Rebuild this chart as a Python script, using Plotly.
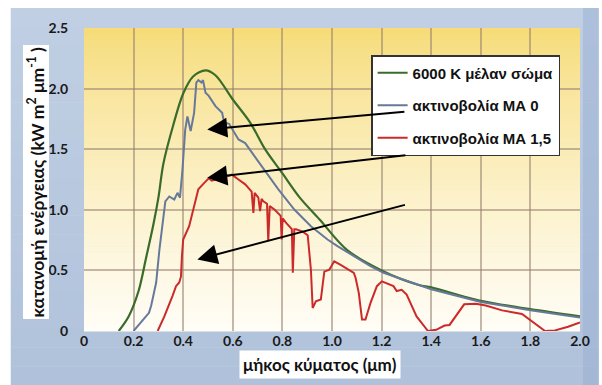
import plotly.graph_objects as go

# ---------------- data ----------------
green_name = "6000 K μέλαν σώμα"
green_x = [0.14, 0.18, 0.22, 0.25, 0.28, 0.30, 0.32, 0.36, 0.40, 0.44, 0.49, 0.53, 0.60,
           0.67, 0.73, 0.80, 0.87, 0.95, 1.06, 1.20, 1.35, 1.40, 1.60, 1.80, 2.00]
green_y = [0.00, 0.12, 0.33, 0.60, 0.88, 1.10, 1.38, 1.70, 1.96, 2.10, 2.15, 2.11, 1.91,
           1.72, 1.50, 1.30, 1.10, 0.92, 0.67, 0.50, 0.38, 0.36, 0.25, 0.18, 0.12]

blue_name = "ακτινοβολία ΜΑ 0"
blue_x = [0.20, 0.262, 0.271, 0.291, 0.304, 0.317, 0.328, 0.344, 0.364, 0.377, 0.387, 0.397,
          0.408, 0.417, 0.430, 0.444, 0.453, 0.461, 0.474, 0.480, 0.490, 0.503, 0.530, 0.557,
          0.565, 0.585, 0.603, 0.623, 0.650, 0.716, 0.783, 0.849, 0.915, 0.982, 1.022, 1.155,
          1.208, 1.40, 1.60, 1.80, 2.00]
blue_y = [0.00, 0.15, 0.21, 0.40, 0.67, 0.89, 1.07, 1.11, 1.085, 1.14, 1.10, 1.33,
          1.66, 1.77, 1.65, 1.80, 2.05, 2.07, 2.05, 2.07, 1.965, 1.94, 1.855, 1.80,
          1.72, 1.71, 1.65, 1.58, 1.55, 1.36, 1.17, 1.00, 0.865, 0.755, 0.70, 0.535,
          0.48, 0.345, 0.24, 0.172, 0.112]

red_name = "ακτινοβολία ΜΑ 1,5"
red_x = [0.297, 0.324, 0.357, 0.371, 0.384, 0.391, 0.395, 0.400, 0.424, 0.440, 0.453, 0.461,
         0.484, 0.503, 0.515, 0.530, 0.545, 0.563, 0.583, 0.596, 0.623, 0.650, 0.676, 0.683,
         0.688, 0.703, 0.710, 0.716, 0.723, 0.738, 0.743, 0.749, 0.769, 0.789, 0.793, 0.797,
         0.801, 0.816, 0.829, 0.838, 0.842, 0.848, 0.855, 0.882, 0.902, 0.915, 0.922, 0.928,
         0.935, 0.955, 0.969, 0.989, 1.009, 1.035, 1.088, 1.095, 1.108, 1.121, 1.135, 1.155,
         1.181, 1.201, 1.228, 1.248, 1.261, 1.281, 1.301, 1.341, 1.387, 1.420, 1.454, 1.474,
         1.533, 1.580, 1.620, 1.686, 1.766, 1.806, 1.859, 1.899, 1.952, 2.000]
red_y = [0.00, 0.12, 0.29, 0.37, 0.40, 0.45, 0.62, 0.755, 0.865, 1.00, 1.11, 1.17,
         1.22, 1.26, 1.24, 1.25, 1.27, 1.29, 1.28, 1.29, 1.25, 1.21, 1.15, 0.975,
         1.14, 1.10, 0.99, 1.09, 1.07, 1.05, 0.74, 1.03, 1.00, 0.96, 0.95, 0.755,
         0.93, 0.89, 0.865, 0.84, 0.48, 0.84, 0.84, 0.82, 0.79, 0.505, 0.19, 0.22,
         0.245, 0.26, 0.49, 0.505, 0.575, 0.545, 0.48, 0.44, 0.315, 0.095, 0.095, 0.23,
         0.37, 0.41, 0.385, 0.37, 0.33, 0.34, 0.30, 0.12, 0.00, 0.01, 0.045, 0.05,
         0.22, 0.225, 0.21, 0.17, 0.14, 0.08, 0.00, 0.005, 0.035, 0.07]

x_ticks = [0, 0.2, 0.4, 0.6, 0.8, 1.0, 1.2, 1.4, 1.6, 1.8, 2.0]
x_labels = ["0", "0.2", "0.4", "0.6", "0.8", "1.0", "1.2", "1.4", "1.6", "1.8", "2.0"]
y_ticks = [0, 0.5, 1.0, 1.5, 2.0, 2.5]
y_labels = ["0", "0.5", "1.0", "1.5", "2.0", "2.5"]

x_title = "μήκος κύματος (μm)"
y_title = "κατανομή ενέργειας (kW m<sup>2</sup> μm<sup>-1</sup> )"

# arrows: (tip_x, tip_y) <- (tail_x, tail_y)
arrow_tips = [(0.497, 1.663), (0.497, 1.264), (0.457, 0.59)]
arrow_tails = [(1.298, 1.811), (1.302, 1.452), (1.300, 1.044)]

# ---------------- layout geometry ----------------
W, H = 602, 385
ML, MR, MT, MB = 84, 17, 28, 54
PW, PH = W - ML - MR, H - MT - MB


def px_x(p):
    return (p - ML) / PW


def px_y(p):
    return (H - MB - p) / PH


def lerp(c1, c2, t):
    return "rgb(%d,%d,%d)" % tuple(round(a + (b - a) * t) for a, b in zip(c1, c2))


shapes = []
# outer blue-grey background
NB = 20
top_blue, bot_blue = (192, 207, 227), (176, 194, 219)
for i in range(NB):
    y0 = 8 + (H - 8) * i / NB
    y1 = 8 + (H - 8) * (i + 1) / NB + 0.5
    shapes.append(dict(type="rect", xref="paper", yref="paper", layer="below",
                       x0=px_x(10), x1=px_x(W + 2), y0=px_y(y1), y1=px_y(y0),
                       line=dict(width=0), fillcolor=lerp(top_blue, bot_blue, i / (NB - 1))))
shapes.append(dict(type="rect", xref="paper", yref="paper", layer="below",
                   x0=px_x(588), x1=px_x(W + 2), y0=px_y(H + 2), y1=px_y(8),
                   line=dict(width=0), fillcolor="rgba(150,172,208,0.45)"))

# plot-area yellow -> white gradient
NP = 50
top_y, bot_y = (246, 219, 118), (255, 253, 246)
for i in range(NP):
    t = i / (NP - 1)
    shapes.append(dict(type="rect", xref="paper", yref="paper", layer="below",
                       x0=0, x1=1, y0=1 - (i + 1) / NP - 0.002, y1=1 - i / NP,
                       line=dict(width=0), fillcolor=lerp(top_y, bot_y, t ** 0.75)))

fig = go.Figure()
fig.add_trace(go.Scatter(x=green_x, y=green_y, mode="lines", name=green_name, legendgroup="g",
                         line=dict(color="#3b6b2b", width=2.2, shape="spline", smoothing=0.9)))
fig.add_trace(go.Scatter(x=blue_x, y=blue_y, mode="lines", name=blue_name, legendgroup="b",
                         line=dict(color="#66799a", width=2)))
fig.add_trace(go.Scatter(x=red_x, y=red_y, mode="lines", name=red_name, legendgroup="r",
                         line=dict(color="#cc2a2a", width=2)))

annotations = []
for (tx, ty), (sx, sy) in zip(arrow_tips, arrow_tails):
    annotations.append(dict(x=tx, y=ty, ax=sx, ay=sy, xref="x", yref="y", axref="x", ayref="y",
                            text="", showarrow=True, arrowhead=2, arrowsize=2.0, arrowwidth=2,
                            arrowcolor="black", standoff=0, startstandoff=0))

annotations.append(dict(x=px_x(36), y=px_y(182), xref="paper", yref="paper", text=y_title,
                        xanchor="center", yanchor="middle",
                        textangle=-90, showarrow=False, bgcolor="white", borderpad=1,
                        font=dict(family="Lato", size=17.5, color="#111111", weight="bold")))
annotations.append(dict(x=px_x(322), y=px_y(364), xref="paper", yref="paper", text=x_title,
                        xanchor="center", yanchor="middle",
                        showarrow=False, bgcolor="white", borderpad=3,
                        font=dict(family="Lato", size=17, color="#111111", weight="bold")))

grid_col = "rgba(150,128,110,0.55)"
tick_font = dict(family="Lato", size=14, color="#1a1a1a", weight="bold")

fig.update_layout(
    width=W, height=H,
    margin=dict(l=ML, r=MR, t=MT, b=MB, pad=0),
    paper_bgcolor="white",
    plot_bgcolor="rgba(0,0,0,0)",
    shapes=shapes,
    annotations=annotations,
    showlegend=True,
    legend=dict(x=px_x(374), y=px_y(55), xanchor="left", yanchor="top",
                bgcolor="white", bordercolor="#333333", borderwidth=1.5,
                font=dict(family="Liberation Sans", size=15, color="#111111", weight="bold"),
                tracegroupgap=10, traceorder="grouped"),
    xaxis=dict(range=[0, 2.0], tickvals=x_ticks, ticktext=x_labels, showgrid=True,
               gridcolor=grid_col, gridwidth=1.5, zeroline=False, showline=False,
               tickfont=tick_font, ticks="", fixedrange=True),
    yaxis=dict(range=[0, 2.5], tickvals=y_ticks, ticktext=y_labels, showgrid=True,
               gridcolor=grid_col, gridwidth=1.5, zeroline=False, showline=False,
               tickfont=tick_font, ticks="outside", ticklen=12, tickcolor="rgba(0,0,0,0)",
               fixedrange=True),
)

fig.write_html("out.html")
